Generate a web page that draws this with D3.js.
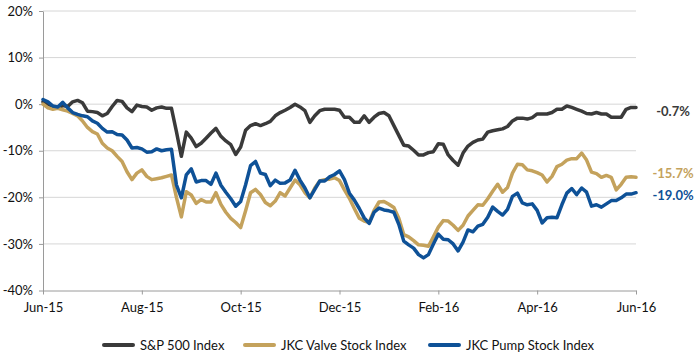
<!DOCTYPE html>
<html>
<head>
<meta charset="utf-8">
<script src="https://cdn.jsdelivr.net/npm/d3@7"></script>
<style>
  html, body { margin: 0; padding: 0; background: #fff; }
  svg { display: block; font-family: Lato, "Open Sans", sans-serif; }
</style>
</head>
<body>
<svg id="chart" width="700" height="356"></svg>
<script>
// ---------- DATA ----------
const monthLabels = ["Jun-15", "Aug-15", "Oct-15", "Dec-15", "Feb-16", "Apr-16", "Jun-16"];
const seriesNames = ["S&P 500 Index", "JKC Valve Stock Index", "JKC Pump Stock Index"];
const yTicks = [-40, -30, -20, -10, 0, 10, 20];
const endLabels = ["-0.7%", "-15.7%", "-19.0%"];

const sp500 = [
  0.5, 0, -0.5, -0.8, -0.3, -0.5, 0.5, 0.8, 0.3, -1.5,
  -1.6, -1.8, -2.5, -2.0, -0.5, 0.8, 0.6, -0.8, -1.6, -0.2,
  -0.5, -0.6, -1.3, -0.8, -0.6, -0.9, -0.9, -5.9, -11.2, -6.0,
  -7.3, -9.1, -8.4, -7.3, -6.2, -5.2, -6.9, -7.9, -8.7, -10.8,
  -9.2, -5.6, -4.6, -4.2, -4.6, -4.2, -3.7, -2.5, -1.8, -1.3,
  -0.7, 0, -0.6, -1.4, -3.9, -2.5, -1.4, -1.1, -1.1, -1.1,
  -1.3, -2.8, -2.8, -3.9, -3.9, -2.5, -3.9, -2.8, -2.0, -1.8,
  -2.5, -4.6, -6.7, -8.8, -9.0, -9.9, -10.9, -10.9, -10.4, -10.2,
  -8.5, -8.6, -10.9, -12.1, -13.1, -10.5, -9.0, -8.2, -7.7, -7.5,
  -6.0, -5.7, -5.5, -5.3, -4.8, -3.6, -3.0, -3.0, -3.2, -2.9,
  -2.1, -2.1, -2.1, -1.8, -1.1, -1.1, -0.4, -0.7, -1.1, -1.5,
  -2.0, -2.1, -1.8, -2.1, -2.1, -2.8, -2.8, -2.8, -1.1, -0.7,
  -0.7
];

const valve = [
  0, -0.8, -1.1, -0.9, -1.2, -1.5, -2.0, -2.5, -3.6, -5.0,
  -5.9, -6.4, -8.4, -9.4, -10.0, -11.2, -12.3, -14.5, -16.2, -14.8,
  -14.1, -15.5, -16.2, -16.0, -15.8, -15.5, -15.2, -20.0, -24.2, -18.8,
  -19.5, -21.3, -20.5, -21.0, -21.0, -19.0, -21.5, -23.2, -24.5, -25.4,
  -26.5, -22.9, -19.0, -18.3, -19.4, -21.1, -21.8, -20.8, -19.0, -19.7,
  -18.0, -16.3, -17.3, -19.0, -20.1, -18.0, -16.5, -16.2, -16.1, -15.8,
  -16.4, -18.4, -20.2, -22.4, -24.5, -25.1, -25.4, -22.8, -21.0, -20.9,
  -21.5, -22.2, -24.5, -28.0, -28.5, -29.3, -30.2, -30.3, -30.5, -28.5,
  -26.4, -25.0, -25.1, -26.0, -27.1, -26.0, -24.0, -22.8, -21.6, -21.7,
  -20.3, -18.7, -17.2, -18.9, -17.9, -14.8, -12.9, -13.0, -14.1, -14.3,
  -14.7, -15.2, -16.7, -15.5, -13.4, -12.9, -12.0, -11.7, -11.7, -10.5,
  -12.0, -14.6, -14.9, -15.7, -15.3, -15.7, -18.4, -17.2, -15.7, -15.6,
  -15.7
];

const pump = [
  1.0, 0.5, -0.4, -0.6, 0.4, -0.8, -1.8, -2.2, -2.5, -2.7,
  -3.6, -4.1, -5.2, -6.0, -5.9, -6.5, -6.6, -7.7, -9.4, -9.3,
  -9.6, -10.3, -10.2, -9.6, -10.0, -9.8, -9.7, -17.3, -20.1, -15.2,
  -13.9, -16.7, -16.4, -16.4, -17.2, -14.8, -17.4, -18.9, -20.3, -21.9,
  -20.9, -17.3, -13.2, -12.3, -14.8, -15.1, -17.5, -16.3, -17.0, -16.9,
  -16.3, -14.2, -16.3, -18.0, -20.1, -18.3, -16.5, -16.5, -15.6, -15.1,
  -14.3, -16.2, -19.1, -20.6, -22.4, -24.4, -25.6, -23.2, -22.3, -22.7,
  -22.9, -23.2, -25.8, -29.4, -30.2, -30.9, -32.3, -33.0, -32.3, -30.0,
  -27.9, -29.0, -29.1, -30.0, -31.5, -29.6, -27.0, -27.4, -26.2, -25.8,
  -24.3, -22.1, -23.0, -23.8, -22.6, -19.8, -19.1, -21.2, -21.6, -21.4,
  -22.8, -25.5, -24.4, -24.3, -24.4, -21.6, -19.1, -18.1, -19.4, -18.0,
  -18.9, -21.9, -21.6, -22.1, -21.4, -20.7, -20.7, -20.1, -19.3, -19.3,
  -19.0
];

const colors = ["#3a3a3a", "#c4a25c", "#0e5197"];

// ---------- CHART ----------
const svg = d3.select("#chart");
const plotLeft = 43, plotRight = 636, plotTop = 11, plotBottom = 290.5;
const nPts = sp500.length;
const perMonthTick = (nPts - 1) / (monthLabels.length - 1);

const x = d3.scaleLinear().domain([0, nPts - 1]).range([plotLeft, plotRight]);
const y = d3.scaleLinear().domain([-40, 20]).range([plotBottom, plotTop]);

// gridlines
svg.append("g")
  .selectAll("line")
  .data(yTicks.filter(d => d > -40))
  .join("line")
  .attr("x1", plotLeft).attr("x2", plotRight)
  .attr("y1", d => y(d)).attr("y2", d => y(d))
  .attr("stroke", "#d6d6d6").attr("stroke-width", 1);

// y axis
const yAxis = svg.append("g")
  .attr("transform", `translate(${plotLeft},0)`)
  .call(d3.axisLeft(y).tickValues(yTicks).tickFormat(d => d + "%").tickSize(4).tickSizeOuter(0).tickPadding(6));
yAxis.select(".domain").attr("stroke", "#9a9a9a");
yAxis.selectAll(".tick line").attr("stroke", "#9a9a9a");
yAxis.selectAll("text").attr("font-size", 13).attr("fill", "#111").attr("font-family", "Lato, sans-serif");

// x axis
const xAxis = svg.append("g")
  .attr("transform", `translate(0,${plotBottom})`)
  .call(d3.axisBottom(x)
    .tickValues(monthLabels.map((d, i) => i * perMonthTick))
    .tickFormat((d, i) => monthLabels[i])
    .tickSize(4).tickSizeOuter(0).tickPadding(8));
xAxis.select(".domain").attr("stroke", "#9a9a9a");
xAxis.selectAll(".tick line").attr("stroke", "#9a9a9a");
xAxis.selectAll("text").attr("font-size", 13).attr("fill", "#111").attr("font-family", "Lato, sans-serif");

// lines
const line = d3.line().x((d, i) => x(i)).y(d => y(d)).curve(d3.curveLinear);
const allSeries = [sp500, valve, pump];
svg.append("g")
  .selectAll("path")
  .data(allSeries)
  .join("path")
  .attr("d", d => line(d))
  .attr("fill", "none")
  .attr("stroke", (d, i) => colors[i])
  .attr("stroke-width", 3.5)
  .attr("stroke-linejoin", "round")
  .attr("stroke-linecap", "round");

// end labels
const endOffsets = [4, -4, 2];
svg.append("g")
  .selectAll("text")
  .data(allSeries)
  .join("text")
  .attr("x", 673)
  .attr("y", (d, i) => y(d[d.length - 1]) + endOffsets[i])
  .attr("text-anchor", "middle")
  .attr("dominant-baseline", "central")
  .attr("font-size", 13)
  .attr("font-weight", "bold")
  .attr("fill", (d, i) => colors[i])
  .text((d, i) => endLabels[i]);

// legend
const legendX = [104, 245, 430];
const legend = svg.append("g").attr("transform", "translate(0,345)");
const items = legend.selectAll("g").data(seriesNames).join("g")
  .attr("transform", (d, i) => `translate(${legendX[i]},0)`);
items.append("line")
  .attr("x1", 0).attr("x2", 29).attr("y1", 0).attr("y2", 0)
  .attr("stroke", (d, i) => colors[i]).attr("stroke-width", 4).attr("stroke-linecap", "round");
items.append("text")
  .attr("x", 36).attr("y", 0)
  .attr("dominant-baseline", "central")
  .attr("font-size", 13)
  .attr("fill", "#111")
  .text(d => d);
</script>
</body>
</html>
